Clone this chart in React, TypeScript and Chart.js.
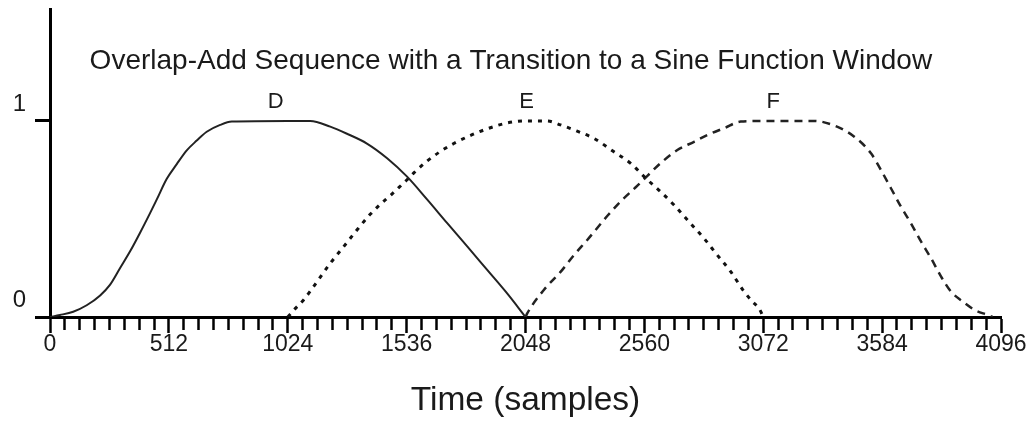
import React, { useEffect, useRef } from "react";
import { Chart, registerables } from "chart.js";

Chart.register(...registerables);

// ---- data ----
const D_SAMPLES = [0, 43, 100, 158, 216, 259, 302, 345, 388, 431, 460, 503, 546, 589, 632, 675, 733, 783, 1024, 1121, 1207, 1279, 1365, 1452, 1538, 1624, 1710, 1797, 1883, 1969, 2048];
const D_VALUES = [0, 0.01, 0.027, 0.06, 0.11, 0.165, 0.25, 0.335, 0.43, 0.53, 0.6, 0.705, 0.78, 0.85, 0.9, 0.945, 0.98, 0.997, 1.0, 1.0, 0.971, 0.935, 0.885, 0.81, 0.716, 0.6, 0.48, 0.36, 0.24, 0.12, 0];

const E_SAMPLES = [1024, 1057, 1092, 1150, 1207, 1265, 1322, 1380, 1423, 1466, 1502, 1538, 1567, 1624, 1682, 1739, 1818, 1883, 1969, 2048, 2142, 2199, 2271, 2343, 2429, 2501, 2566, 2630, 2688, 2752, 2817, 2868, 2932, 2990, 3026, 3054, 3072];
const E_VALUES = [0, 0.044, 0.087, 0.18, 0.274, 0.359, 0.444, 0.525, 0.575, 0.62, 0.66, 0.7, 0.735, 0.795, 0.845, 0.885, 0.93, 0.96, 0.99, 1.0, 1.0, 0.98, 0.948, 0.911, 0.843, 0.784, 0.708, 0.639, 0.571, 0.486, 0.401, 0.325, 0.231, 0.129, 0.078, 0.044, 0];

const F_SAMPLES = [2048, 2056, 2127, 2199, 2257, 2314, 2400, 2458, 2530, 2573, 2630, 2702, 2774, 2832, 2903, 2975, 3072, 3291, 3392, 3464, 3536, 3579, 3622, 3665, 3708, 3752, 3795, 3838, 3881, 3932, 3982, 4039, 4060];
const F_VALUES = [0, 0.02, 0.138, 0.23, 0.316, 0.393, 0.515, 0.59, 0.67, 0.72, 0.785, 0.852, 0.894, 0.929, 0.963, 0.997, 1.0, 1.0, 0.97, 0.92, 0.835, 0.75, 0.657, 0.563, 0.478, 0.384, 0.299, 0.206, 0.129, 0.078, 0.036, 0.01, 0];

const X_TICKS = Array.from({ length: 65 }, (_, i) => i * 64); // 0..4096 every 64 samples
const X_MAJOR_STEP = 512;
const Y_TICKS = [0, 1];

const WINDOW_NAMES = ["D", "E", "F"];
const WINDOW_LABEL_SAMPLES = [972, 2053, 3115];
const WINDOW_LABEL_VALUE = 1.065;

const CHART_TITLE = "Overlap-Add Sequence with a Transition to a Sine Function Window";
const TITLE_SAMPLE = 1985;
const TITLE_VALUE = 1.265;
const X_AXIS_TITLE = "Time (samples)";

const FONT = "'Liberation Sans', Arial, Helvetica, sans-serif";
const INK = "#1a1a1a";

const toPoints = (xs: number[], ys: number[]) => xs.map((x, i) => ({ x, y: ys[i] }));

const textPlugin = {
  id: "textAnnotations",
  afterDatasetsDraw(chart: any) {
    const { ctx, scales } = chart;
    const xs = scales.x;
    const ys = scales.y;
    ctx.save();
    ctx.fillStyle = INK;
    ctx.textBaseline = "alphabetic";
    ctx.textAlign = "center";
    ctx.font = `28px ${FONT}`;
    ctx.fillText(CHART_TITLE, xs.getPixelForValue(TITLE_SAMPLE), ys.getPixelForValue(TITLE_VALUE));
    ctx.font = `22px ${FONT}`;
    WINDOW_NAMES.forEach((name, i) => {
      ctx.fillText(name, xs.getPixelForValue(WINDOW_LABEL_SAMPLES[i]), ys.getPixelForValue(WINDOW_LABEL_VALUE));
    });
    ctx.restore();
  },
};

export default function App() {
  const canvasRef = useRef<HTMLCanvasElement | null>(null);

  useEffect(() => {
    const canvas = canvasRef.current;
    if (!canvas) return;
    Chart.defaults.font.family = FONT;
    const chart = new Chart(canvas, {
      type: "line",
      data: {
        datasets: [
          {
            label: "D",
            data: toPoints(D_SAMPLES, D_VALUES),
            borderColor: "#222",
            borderWidth: 2,
            pointRadius: 0,
            fill: false,
            cubicInterpolationMode: "monotone",
          },
          {
            label: "E",
            data: toPoints(E_SAMPLES, E_VALUES),
            borderColor: "#111",
            borderWidth: 3,
            borderDash: [4, 6],
            pointRadius: 0,
            fill: false,
            cubicInterpolationMode: "monotone",
          },
          {
            label: "F",
            data: toPoints(F_SAMPLES, F_VALUES),
            borderColor: "#222",
            borderWidth: 2.5,
            borderDash: [8, 6],
            pointRadius: 0,
            fill: false,
            cubicInterpolationMode: "monotone",
          },
        ],
      },
      options: {
        responsive: false,
        animation: false,
        events: [],
        layout: { padding: { left: 0, right: 34, top: 9, bottom: 0 } },
        plugins: {
          legend: { display: false },
          tooltip: { enabled: false },
          title: { display: false },
        },
        scales: {
          x: {
            type: "linear",
            min: 0,
            max: 4096,
            afterBuildTicks: (s: any) => {
              s.ticks = X_TICKS.map((v) => ({ value: v }));
            },
            afterFit: (s: any) => {
              s.height = 110;
              s.paddingLeft = 0;
              s.paddingRight = 0;
            },
            ticks: {
              autoSkip: false,
              maxRotation: 0,
              minRotation: 0,
              padding: -2,
              color: INK,
              font: { size: 23, family: FONT },
              callback: (v: any) => (Number(v) % X_MAJOR_STEP === 0 ? String(v) : ""),
            },
            grid: {
              drawOnChartArea: false,
              drawTicks: true,
              tickLength: 16,
              tickWidth: 2.5,
              tickColor: "#000",
              tickBorderDash: (ctx: any) =>
                ctx.tick && Number(ctx.tick.value) % X_MAJOR_STEP !== 0 ? [11, 100] : [],
            },
            border: { display: true, color: "#000", width: 3 },
            title: {
              display: true,
              text: X_AXIS_TITLE,
              color: INK,
              font: { size: 33.5, family: FONT },
              padding: { top: 6, bottom: 6 },
            },
          },
          y: {
            type: "linear",
            min: 0,
            max: 1.5714,
            afterBuildTicks: (s: any) => {
              s.ticks = Y_TICKS.map((v) => ({ value: v }));
            },
            afterFit: (s: any) => {
              s.width = 50;
              s.paddingTop = 0;
              s.paddingBottom = 0;
            },
            ticks: {
              padding: 9,
              labelOffset: -17,
              color: INK,
              font: { size: 24, family: FONT },
              callback: (v: any) => String(v),
            },
            grid: {
              drawOnChartArea: false,
              drawTicks: true,
              tickLength: 15,
              tickWidth: 3,
              tickColor: "#000",
            },
            border: { display: true, color: "#000", width: 3 },
          },
        },
      },
      plugins: [textPlugin],
    } as any);
    return () => chart.destroy();
  }, []);

  return (
    <div style={{ position: "fixed", left: 0, top: 0, width: 1035, height: 427, background: "#fff" }}>
      <canvas ref={canvasRef} width={1035} height={427} style={{ display: "block", width: 1035, height: 427 }} />
    </div>
  );
}
